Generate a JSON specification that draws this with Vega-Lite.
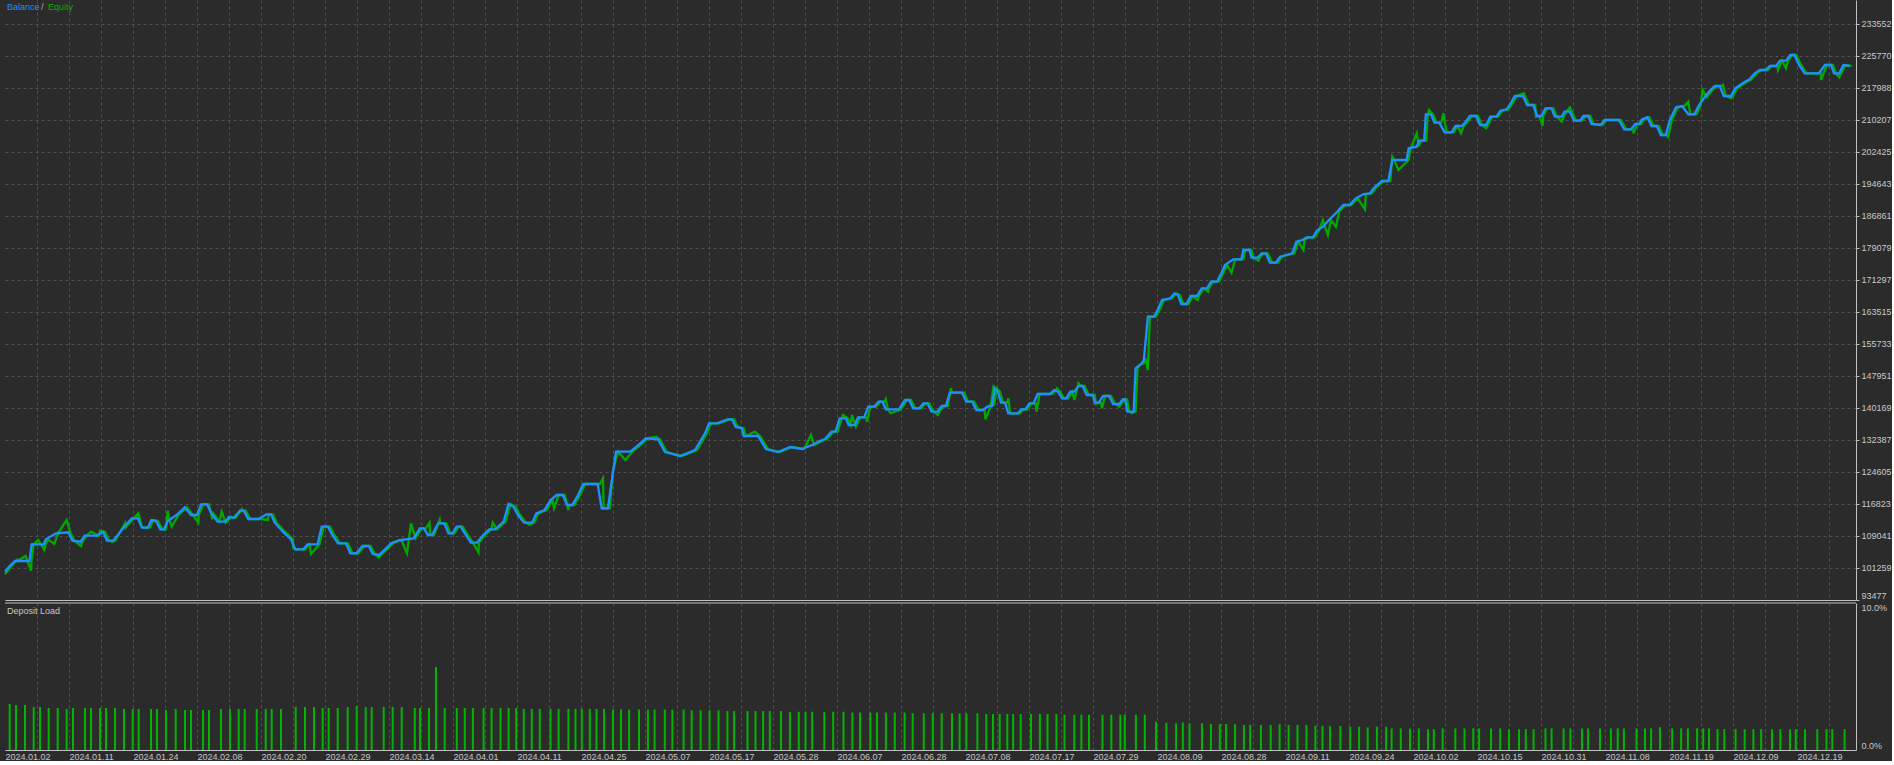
{
  "$schema": "https://vega.github.io/schema/vega-lite/v6.json",
  "background": "#2b2b2b",
  "padding": 0,
  "autosize": {"type": "pad"},
  "spacing": 3,
  "bounds": "flush",
  "config": {
    "view": {"stroke": null},
    "font": "Liberation Sans",
    "axis": {"labelFont": "Liberation Sans", "labelFontSize": 9, "labelColor": "#c8c8c8", "labelOverlap": false, "title": null}
  },
  "datasets": {
    "one": [{"x": 0, "v": 239388, "p": 10}],
    "balance": [
      {"x":0,"v":100356},{"x":4,"v":101572},{"x":10,"v":102958},{"x":24.5,"v":102958},{"x":26.6,"v":107018},{"x":38.8,"v":107018},{"x":40.9,"v":108234},{"x":51,"v":109693},{"x":63.3,"v":109936},{"x":67.4,"v":107895},{"x":75.6,"v":107651},{"x":79.7,"v":109111},{"x":92,"v":109111},{"x":98,"v":110084},{"x":102,"v":107895},{"x":108.3,"v":107895},{"x":118.5,"v":111057},{"x":126.7,"v":113343},{"x":132.8,"v":113343},{"x":137,"v":111057},{"x":143,"v":111057},{"x":146.3,"v":112929},{"x":151,"v":112686},{"x":155.3,"v":110668},{"x":159,"v":110668},{"x":162.7,"v":112686},{"x":171.6,"v":114145},{"x":179.8,"v":116018},{"x":186,"v":114145},{"x":191.8,"v":114145},{"x":196.2,"v":116747},{"x":202,"v":116747},{"x":206.4,"v":114559},{"x":212.5,"v":112516},{"x":220.4,"v":112516},{"x":224,"v":113732},{"x":228.6,"v":113414},{"x":235,"v":115191},{"x":238.8,"v":115191},{"x":243.2,"v":113172},{"x":253.4,"v":113172},{"x":261.6,"v":114315},{"x":266,"v":114315},{"x":269.7,"v":112273},{"x":277.9,"v":110084},{"x":286,"v":108234},{"x":290.2,"v":105804},{"x":298.4,"v":105804},{"x":302.4,"v":107018},{"x":312.6,"v":107018},{"x":316.7,"v":111301},{"x":322.9,"v":111301},{"x":327,"v":109452},{"x":333,"v":107264},{"x":341,"v":107264},{"x":345.3,"v":104831},{"x":351.4,"v":104831},{"x":357.6,"v":106606},{"x":363.7,"v":106606},{"x":367.8,"v":104661},{"x":374,"v":104418},{"x":380,"v":105804},{"x":386.2,"v":107264},{"x":394.4,"v":108065},{"x":408.7,"v":108479},{"x":414.8,"v":110911},{"x":418.9,"v":110911},{"x":423,"v":109281},{"x":427,"v":109281},{"x":433.2,"v":112127},{"x":439.3,"v":112127},{"x":443.4,"v":109693},{"x":447.5,"v":109693},{"x":451.6,"v":111301},{"x":455.7,"v":111301},{"x":459.8,"v":109693},{"x":465.9,"v":107409},{"x":472,"v":107409},{"x":478.2,"v":109281},{"x":484.3,"v":110668},{"x":490,"v":110668},{"x":498.6,"v":112516},{"x":503.5,"v":116820},{"x":508.5,"v":116164},{"x":513,"v":114145},{"x":519,"v":112273},{"x":527.2,"v":112273},{"x":531.3,"v":114559},{"x":539.5,"v":115364},{"x":545.6,"v":117793},{"x":551.7,"v":119009},{"x":557.8,"v":119009},{"x":562,"v":116577},{"x":567.3,"v":116577},{"x":572.2,"v":118597},{"x":578.3,"v":121684},{"x":592.6,"v":121684},{"x":596.7,"v":115775},{"x":602.8,"v":115775},{"x":611,"v":129539},{"x":625.3,"v":129539},{"x":633.5,"v":131168},{"x":640.8,"v":132798},{"x":653,"v":132555},{"x":660,"v":129466},{"x":675,"v":128493},{"x":690,"v":129952},{"x":700,"v":134014},{"x":704,"v":136446},{"x":712,"v":136446},{"x":722.4,"v":137419},{"x":727,"v":137419},{"x":730.6,"v":135619},{"x":736.7,"v":135230},{"x":738.8,"v":133357},{"x":753,"v":133357},{"x":761,"v":130196},{"x":773,"v":129466},{"x":785,"v":130682},{"x":797,"v":130196},{"x":807,"v":131168},{"x":815,"v":132141},{"x":820,"v":132628},{"x":826.5,"v":134403},{"x":830.6,"v":134403},{"x":834.7,"v":137662},{"x":840.8,"v":137662},{"x":843.7,"v":136032},{"x":849.8,"v":136032},{"x":853,"v":137905},{"x":859.2,"v":137905},{"x":863.3,"v":140483},{"x":869.4,"v":140483},{"x":873.5,"v":141699},{"x":877.6,"v":141699},{"x":880.8,"v":139850},{"x":893.9,"v":139850},{"x":900,"v":142112},{"x":904,"v":142112},{"x":908.2,"v":140093},{"x":914.3,"v":140093},{"x":918.4,"v":141309},{"x":922.4,"v":141309},{"x":926.5,"v":139267},{"x":932.6,"v":139267},{"x":936.7,"v":140653},{"x":940.8,"v":140653},{"x":944.9,"v":143887},{"x":957,"v":143887},{"x":961.2,"v":141699},{"x":967.3,"v":141699},{"x":971.4,"v":139680},{"x":977.6,"v":139680},{"x":983.7,"v":140653},{"x":986.9,"v":140653},{"x":989.8,"v":144957},{"x":993,"v":144130},{"x":995.9,"v":141455},{"x":1000,"v":141455},{"x":1003.3,"v":138879},{"x":1013,"v":138879},{"x":1016.3,"v":139850},{"x":1020.4,"v":139850},{"x":1024.5,"v":141309},{"x":1028.6,"v":141309},{"x":1032.7,"v":143571},{"x":1044.9,"v":143571},{"x":1049,"v":144544},{"x":1053,"v":144130},{"x":1057,"v":142526},{"x":1061.2,"v":142526},{"x":1065.3,"v":144130},{"x":1069.4,"v":144130},{"x":1073.5,"v":145517},{"x":1077.6,"v":145517},{"x":1081.6,"v":143328},{"x":1087.8,"v":143328},{"x":1089.8,"v":141455},{"x":1093.9,"v":141455},{"x":1098,"v":143085},{"x":1104,"v":143085},{"x":1108.2,"v":141139},{"x":1114.3,"v":141139},{"x":1117.6,"v":142282},{"x":1120,"v":142282},{"x":1122.4,"v":139267},{"x":1128.6,"v":139267},{"x":1130.6,"v":149822},{"x":1136.7,"v":151037},{"x":1138.8,"v":151840},{"x":1142.9,"v":162371},{"x":1149,"v":162371},{"x":1153,"v":164170},{"x":1157,"v":166431},{"x":1165.3,"v":166844},{"x":1169.4,"v":168060},{"x":1173,"v":167647},{"x":1176.3,"v":165458},{"x":1181.6,"v":165458},{"x":1185.7,"v":167404},{"x":1192,"v":167404},{"x":1196.7,"v":169276},{"x":1202,"v":169276},{"x":1206,"v":170881},{"x":1212,"v":170881},{"x":1216.3,"v":172924},{"x":1220,"v":174943},{"x":1228.2,"v":176329},{"x":1236.3,"v":176329},{"x":1238.4,"v":178590},{"x":1244.5,"v":178590},{"x":1246.5,"v":176718},{"x":1252.7,"v":176718},{"x":1256.7,"v":177788},{"x":1260.8,"v":177788},{"x":1264.9,"v":175502},{"x":1271,"v":175502},{"x":1275.1,"v":176961},{"x":1281.2,"v":177375},{"x":1287.3,"v":177788},{"x":1291.4,"v":180609},{"x":1297.6,"v":181022},{"x":1301.6,"v":181679},{"x":1307.8,"v":181679},{"x":1311.8,"v":183284},{"x":1318,"v":184257},{"x":1324,"v":185886},{"x":1332.2,"v":187905},{"x":1338.4,"v":189534},{"x":1344.5,"v":189534},{"x":1350.6,"v":191164},{"x":1358.8,"v":192209},{"x":1364.9,"v":192379},{"x":1369,"v":193741},{"x":1377,"v":195371},{"x":1383.3,"v":195371},{"x":1387.3,"v":200478},{"x":1401.6,"v":200478},{"x":1403.7,"v":203323},{"x":1411.8,"v":203712},{"x":1413.9,"v":205171},{"x":1419.2,"v":205171},{"x":1420.8,"v":211591},{"x":1426.1,"v":211591},{"x":1429.4,"v":209549},{"x":1434.3,"v":209549},{"x":1439.6,"v":207214},{"x":1446.5,"v":207214},{"x":1450.6,"v":208746},{"x":1456.7,"v":208746},{"x":1460.8,"v":209792},{"x":1464.9,"v":211178},{"x":1471,"v":211178},{"x":1475.1,"v":208989},{"x":1481.2,"v":208989},{"x":1485.3,"v":211008},{"x":1491.4,"v":211008},{"x":1495.5,"v":212467},{"x":1501.6,"v":212807},{"x":1505.7,"v":214267},{"x":1509.8,"v":216042},{"x":1518,"v":216042},{"x":1522,"v":213853},{"x":1528.2,"v":213853},{"x":1532.2,"v":211178},{"x":1536.3,"v":211178},{"x":1540.4,"v":213051},{"x":1546.5,"v":213051},{"x":1549.8,"v":211008},{"x":1556.7,"v":211008},{"x":1559.6,"v":212224},{"x":1564.9,"v":212224},{"x":1569,"v":210035},{"x":1575.1,"v":210035},{"x":1578.4,"v":211178},{"x":1583.3,"v":211178},{"x":1586.5,"v":209232},{"x":1595.5,"v":208989},{"x":1599.6,"v":210205},{"x":1613.9,"v":210205},{"x":1619.2,"v":207944},{"x":1626.1,"v":207944},{"x":1630.2,"v":209232},{"x":1634.3,"v":209232},{"x":1637.1,"v":210376},{"x":1642.4,"v":210862},{"x":1646.5,"v":208746},{"x":1651.8,"v":208746},{"x":1655.9,"v":206557},{"x":1660.8,"v":206557},{"x":1664.9,"v":210205},{"x":1671,"v":213294},{"x":1677.1,"v":213610},{"x":1683.3,"v":211591},{"x":1689.4,"v":211591},{"x":1693.5,"v":213610},{"x":1699.6,"v":215726},{"x":1704.9,"v":217331},{"x":1709.8,"v":218474},{"x":1714.7,"v":218474},{"x":1718.8,"v":216042},{"x":1726.1,"v":216042},{"x":1730.2,"v":217914},{"x":1738.4,"v":219276},{"x":1744.5,"v":220103},{"x":1749.8,"v":221562},{"x":1754.7,"v":222365},{"x":1760.8,"v":222365},{"x":1764.9,"v":223337},{"x":1771,"v":223337},{"x":1775.1,"v":224627},{"x":1781.2,"v":224627},{"x":1785.3,"v":226013},{"x":1789.4,"v":226013},{"x":1793.5,"v":223824},{"x":1799.6,"v":221562},{"x":1813.9,"v":221562},{"x":1820,"v":223581},{"x":1826,"v":223581},{"x":1829,"v":221562},{"x":1834.3,"v":221562},{"x":1838.4,"v":223581},{"x":1844.5,"v":223337}
    ],
    "equity": [
      {"x":2,"v":100356},{"x":6,"v":101572},{"x":12,"v":102958},{"x":26.5,"v":102958},{"x":28.6,"v":107018},{"x":40.8,"v":107018},{"x":42.9,"v":108234},{"x":53,"v":109693},{"x":65.3,"v":109936},{"x":69.4,"v":107895},{"x":77.6,"v":107651},{"x":81.7,"v":109111},{"x":94,"v":109111},{"x":100,"v":110084},{"x":104,"v":107895},{"x":110.3,"v":107895},{"x":120.5,"v":111057},{"x":128.7,"v":113343},{"x":134.8,"v":113343},{"x":139,"v":111057},{"x":145,"v":111057},{"x":148.3,"v":112929},{"x":153,"v":112686},{"x":157.3,"v":110668},{"x":161,"v":110668},{"x":164.7,"v":112686},{"x":173.6,"v":114145},{"x":181.8,"v":116018},{"x":188,"v":114145},{"x":193.8,"v":114145},{"x":198.2,"v":116747},{"x":204,"v":116747},{"x":208.4,"v":114559},{"x":214.5,"v":112516},{"x":222.4,"v":112516},{"x":226,"v":113732},{"x":230.6,"v":113414},{"x":237,"v":115191},{"x":240.8,"v":115191},{"x":245.2,"v":113172},{"x":255.4,"v":113172},{"x":263.6,"v":114315},{"x":268,"v":114315},{"x":271.7,"v":112273},{"x":279.9,"v":110084},{"x":288,"v":108234},{"x":292.2,"v":105804},{"x":300.4,"v":105804},{"x":304.4,"v":107018},{"x":314.6,"v":107018},{"x":318.7,"v":111301},{"x":324.9,"v":111301},{"x":329,"v":109452},{"x":335,"v":107264},{"x":343,"v":107264},{"x":347.3,"v":104831},{"x":353.4,"v":104831},{"x":359.6,"v":106606},{"x":365.7,"v":106606},{"x":369.8,"v":104661},{"x":376,"v":104418},{"x":382,"v":105804},{"x":388.2,"v":107264},{"x":396.4,"v":108065},{"x":410.7,"v":108479},{"x":416.8,"v":110911},{"x":420.9,"v":110911},{"x":425,"v":109281},{"x":429,"v":109281},{"x":435.2,"v":112127},{"x":441.3,"v":112127},{"x":445.4,"v":109693},{"x":449.5,"v":109693},{"x":453.6,"v":111301},{"x":457.7,"v":111301},{"x":461.8,"v":109693},{"x":467.9,"v":107409},{"x":474,"v":107409},{"x":480.2,"v":109281},{"x":486.3,"v":110668},{"x":492,"v":110668},{"x":500.6,"v":112516},{"x":505.5,"v":116820},{"x":510.5,"v":116164},{"x":515,"v":114145},{"x":521,"v":112273},{"x":529.2,"v":112273},{"x":533.3,"v":114559},{"x":541.5,"v":115364},{"x":547.6,"v":117793},{"x":553.7,"v":119009},{"x":559.8,"v":119009},{"x":564,"v":116577},{"x":569.3,"v":116577},{"x":574.2,"v":118597},{"x":580.3,"v":121684},{"x":594.6,"v":121684},{"x":598.7,"v":115775},{"x":604.8,"v":115775},{"x":613,"v":129539},{"x":627.3,"v":129539},{"x":635.5,"v":131168},{"x":642.8,"v":132798},{"x":655,"v":132555},{"x":662,"v":129466},{"x":677,"v":128493},{"x":692,"v":129952},{"x":702,"v":134014},{"x":706,"v":136446},{"x":714,"v":136446},{"x":724.4,"v":137419},{"x":729,"v":137419},{"x":732.6,"v":135619},{"x":738.7,"v":135230},{"x":740.8,"v":133357},{"x":755,"v":133357},{"x":763,"v":130196},{"x":775,"v":129466},{"x":787,"v":130682},{"x":799,"v":130196},{"x":809,"v":131168},{"x":817,"v":132141},{"x":822,"v":132628},{"x":828.5,"v":134403},{"x":832.6,"v":134403},{"x":836.7,"v":137662},{"x":842.8,"v":137662},{"x":845.7,"v":136032},{"x":851.8,"v":136032},{"x":855,"v":137905},{"x":861.2,"v":137905},{"x":865.3,"v":140483},{"x":871.4,"v":140483},{"x":875.5,"v":141699},{"x":879.6,"v":141699},{"x":882.8,"v":139850},{"x":895.9,"v":139850},{"x":902,"v":142112},{"x":906,"v":142112},{"x":910.2,"v":140093},{"x":916.3,"v":140093},{"x":920.4,"v":141309},{"x":924.4,"v":141309},{"x":928.5,"v":139267},{"x":934.6,"v":139267},{"x":938.7,"v":140653},{"x":942.8,"v":140653},{"x":946.9,"v":143887},{"x":959,"v":143887},{"x":963.2,"v":141699},{"x":969.3,"v":141699},{"x":973.4,"v":139680},{"x":979.6,"v":139680},{"x":985.7,"v":140653},{"x":988.9,"v":140653},{"x":991.8,"v":144957},{"x":995,"v":144130},{"x":997.9,"v":141455},{"x":1002,"v":141455},{"x":1005.3,"v":138879},{"x":1015,"v":138879},{"x":1018.3,"v":139850},{"x":1022.4,"v":139850},{"x":1026.5,"v":141309},{"x":1030.6,"v":141309},{"x":1034.7,"v":143571},{"x":1046.9,"v":143571},{"x":1051,"v":144544},{"x":1055,"v":144130},{"x":1059,"v":142526},{"x":1063.2,"v":142526},{"x":1067.3,"v":144130},{"x":1071.4,"v":144130},{"x":1075.5,"v":145517},{"x":1079.6,"v":145517},{"x":1083.6,"v":143328},{"x":1089.8,"v":143328},{"x":1091.8,"v":141455},{"x":1095.9,"v":141455},{"x":1100,"v":143085},{"x":1106,"v":143085},{"x":1110.2,"v":141139},{"x":1116.3,"v":141139},{"x":1119.6,"v":142282},{"x":1122,"v":142282},{"x":1124.4,"v":139267},{"x":1130.6,"v":139267},{"x":1132.6,"v":149822},{"x":1138.7,"v":151037},{"x":1140.8,"v":151840},{"x":1144.9,"v":162371},{"x":1151,"v":162371},{"x":1155,"v":164170},{"x":1159,"v":166431},{"x":1167.3,"v":166844},{"x":1171.4,"v":168060},{"x":1175,"v":167647},{"x":1178.3,"v":165458},{"x":1183.6,"v":165458},{"x":1187.7,"v":167404},{"x":1194,"v":167404},{"x":1198.7,"v":169276},{"x":1204,"v":169276},{"x":1208,"v":170881},{"x":1214,"v":170881},{"x":1218.3,"v":172924},{"x":1222,"v":174943},{"x":1230.2,"v":176329},{"x":1238.3,"v":176329},{"x":1240.4,"v":178590},{"x":1246.5,"v":178590},{"x":1248.5,"v":176718},{"x":1254.7,"v":176718},{"x":1258.7,"v":177788},{"x":1262.8,"v":177788},{"x":1266.9,"v":175502},{"x":1273,"v":175502},{"x":1277.1,"v":176961},{"x":1283.2,"v":177375},{"x":1289.3,"v":177788},{"x":1293.4,"v":180609},{"x":1299.6,"v":181022},{"x":1303.6,"v":181679},{"x":1309.8,"v":181679},{"x":1313.8,"v":183284},{"x":1320,"v":184257},{"x":1326,"v":185886},{"x":1334.2,"v":187905},{"x":1340.4,"v":189534},{"x":1346.5,"v":189534},{"x":1352.6,"v":191164},{"x":1360.8,"v":192209},{"x":1366.9,"v":192379},{"x":1371,"v":193741},{"x":1379,"v":195371},{"x":1385.3,"v":195371},{"x":1389.3,"v":200478},{"x":1403.6,"v":200478},{"x":1405.7,"v":203323},{"x":1413.8,"v":203712},{"x":1415.9,"v":205171},{"x":1421.2,"v":205171},{"x":1422.8,"v":211591},{"x":1428.1,"v":211591},{"x":1431.4,"v":209549},{"x":1436.3,"v":209549},{"x":1441.6,"v":207214},{"x":1448.5,"v":207214},{"x":1452.6,"v":208746},{"x":1458.7,"v":208746},{"x":1462.8,"v":209792},{"x":1466.9,"v":211178},{"x":1473,"v":211178},{"x":1477.1,"v":208989},{"x":1483.2,"v":208989},{"x":1487.3,"v":211008},{"x":1493.4,"v":211008},{"x":1497.5,"v":212467},{"x":1503.6,"v":212807},{"x":1507.7,"v":214267},{"x":1511.8,"v":216042},{"x":1520,"v":216042},{"x":1524,"v":213853},{"x":1530.2,"v":213853},{"x":1534.2,"v":211178},{"x":1538.3,"v":211178},{"x":1542.4,"v":213051},{"x":1548.5,"v":213051},{"x":1551.8,"v":211008},{"x":1558.7,"v":211008},{"x":1561.6,"v":212224},{"x":1566.9,"v":212224},{"x":1571,"v":210035},{"x":1577.1,"v":210035},{"x":1580.4,"v":211178},{"x":1585.3,"v":211178},{"x":1588.5,"v":209232},{"x":1597.5,"v":208989},{"x":1601.6,"v":210205},{"x":1615.9,"v":210205},{"x":1621.2,"v":207944},{"x":1628.1,"v":207944},{"x":1632.2,"v":209232},{"x":1636.3,"v":209232},{"x":1639.1,"v":210376},{"x":1644.4,"v":210862},{"x":1648.5,"v":208746},{"x":1653.8,"v":208746},{"x":1657.9,"v":206557},{"x":1662.8,"v":206557},{"x":1666.9,"v":210205},{"x":1673,"v":213294},{"x":1679.1,"v":213610},{"x":1685.3,"v":211591},{"x":1691.4,"v":211591},{"x":1695.5,"v":213610},{"x":1701.6,"v":215726},{"x":1706.9,"v":217331},{"x":1711.8,"v":218474},{"x":1716.7,"v":218474},{"x":1720.8,"v":216042},{"x":1728.1,"v":216042},{"x":1732.2,"v":217914},{"x":1740.4,"v":219276},{"x":1746.5,"v":220103},{"x":1751.8,"v":221562},{"x":1756.7,"v":222365},{"x":1762.8,"v":222365},{"x":1766.9,"v":223337},{"x":1772.5,"v":223337},{"x":1777.1,"v":224627},{"x":1783.2,"v":224627},{"x":1787.3,"v":226013},{"x":1791.4,"v":226013},{"x":1795.5,"v":223824},{"x":1801.6,"v":221562},{"x":1815.9,"v":221562},{"x":1822,"v":223581},{"x":1828,"v":223581},{"x":1831,"v":221562},{"x":1836.3,"v":221562},{"x":1840.4,"v":223581},{"x":1846.5,"v":223337},
      {"x":0,"v":99724},{"x":11.7,"v":103202},{"x":20.7,"v":104174},{"x":26,"v":100602},{"x":33.3,"v":108065},{"x":39.3,"v":105633},{"x":49.3,"v":107093},{"x":61.7,"v":112929},{"x":76,"v":106606},{"x":86,"v":110084},{"x":95,"v":110327},{"x":106.7,"v":107651},{"x":120,"v":112127},{"x":133.3,"v":114559},{"x":136.7,"v":111301},{"x":162.7,"v":115191},{"x":166.7,"v":111301},{"x":193.3,"v":112273},{"x":207.3,"v":113099},{"x":216.7,"v":114948},{"x":220.7,"v":112273},{"x":236.7,"v":115533},{"x":263,"v":112929},{"x":288.3,"v":106047},{"x":306,"v":104661},{"x":373.5,"v":103856},{"x":402,"v":104831},{"x":406,"v":112127},{"x":424.5,"v":112273},{"x":434.7,"v":112929},{"x":473.5,"v":105054},{"x":487.8,"v":112273},{"x":524.5,"v":111714},{"x":549,"v":115775},{"x":563.3,"v":115364},{"x":598,"v":123070},{"x":601,"v":115850},{"x":608,"v":125089},{"x":620.4,"v":127521},{"x":651,"v":133187},{"x":750,"v":134403},{"x":806,"v":133600},{"x":838,"v":138464},{"x":847,"v":138464},{"x":851,"v":135619},{"x":862,"v":136835},{"x":880.8,"v":142282},{"x":885.7,"v":138879},{"x":932.7,"v":138464},{"x":942.9,"v":140896},{"x":946,"v":144957},{"x":980.5,"v":137419},{"x":988.6,"v":145760},{"x":1003.3,"v":142526},{"x":1031.4,"v":139267},{"x":1052,"v":144957},{"x":1069.4,"v":142112},{"x":1073.5,"v":146173},{"x":1091,"v":140896},{"x":1097,"v":140093},{"x":1114.3,"v":140482},{"x":1126.5,"v":138879},{"x":1134.7,"v":150624},{"x":1142.9,"v":149408},{"x":1192.7,"v":166431},{"x":1203.3,"v":168449},{"x":1226.5,"v":173070},{"x":1253.5,"v":175988},{"x":1298.4,"v":178590},{"x":1318,"v":185886},{"x":1322.9,"v":182238},{"x":1331,"v":184257},{"x":1360,"v":188488},{"x":1387.3,"v":201281},{"x":1393.5,"v":198046},{"x":1411.8,"v":206971},{"x":1424,"v":212637},{"x":1438.4,"v":211835},{"x":1456,"v":206971},{"x":1481.2,"v":208187},{"x":1519,"v":216698},{"x":1530.9,"v":211008},{"x":1537.6,"v":208746},{"x":1556.7,"v":209792},{"x":1564.9,"v":213294},{"x":1628.6,"v":206971},{"x":1662.9,"v":205755},{"x":1683.3,"v":214656},{"x":1697.6,"v":217501},{"x":1718,"v":218717},{"x":1726,"v":215483},{"x":1773,"v":222365},{"x":1781,"v":222778},{"x":1816,"v":219933},{"x":1834.3,"v":220590}
    ],
    "load": [
      {"x":4.7,"p":3.13},{"x":11,"p":3.06},{"x":20,"p":3.06},{"x":28.7,"p":2.93},{"x":35,"p":2.93},{"x":43.7,"p":2.86},{"x":52.7,"p":2.86},{"x":61.7,"p":2.79},{"x":68,"p":2.86},{"x":80,"p":2.86},{"x":86,"p":2.86},{"x":95,"p":2.86},{"x":101,"p":2.86},{"x":110,"p":2.86},{"x":119,"p":2.79},{"x":127.7,"p":2.79},{"x":133.7,"p":2.79},{"x":146,"p":2.79},{"x":152,"p":2.79},{"x":161,"p":2.72},{"x":170.7,"p":2.79},{"x":180,"p":2.72},{"x":186,"p":2.72},{"x":198,"p":2.72},{"x":204,"p":2.72},{"x":216,"p":2.79},{"x":225,"p":2.79},{"x":233.7,"p":2.79},{"x":239.7,"p":2.79},{"x":251.7,"p":2.79},{"x":260.7,"p":2.79},{"x":266.7,"p":2.79},{"x":276,"p":2.79},{"x":290.7,"p":2.93},{"x":300,"p":2.93},{"x":309,"p":2.93},{"x":317.7,"p":2.86},{"x":323.7,"p":2.86},{"x":332.7,"p":2.86},{"x":342.7,"p":2.93},{"x":351.7,"p":2.99},{"x":360.7,"p":2.93},{"x":366.7,"p":2.93},{"x":378.7,"p":2.93},{"x":387.7,"p":2.93},{"x":396.7,"p":2.93},
      {"x":409.8,"p":2.86},{"x":415,"p":2.86},{"x":424,"p":2.86},{"x":431,"p":5.65},{"x":439.7,"p":2.86},{"x":451.8,"p":2.86},{"x":459.8,"p":2.86},{"x":467.9,"p":2.86},{"x":478.6,"p":2.86},{"x":486.6,"p":2.86},{"x":495.5,"p":2.86},{"x":503.6,"p":2.86},{"x":511.2,"p":2.86},{"x":518.8,"p":2.8},{"x":526.8,"p":2.8},{"x":534.8,"p":2.8},{"x":545.5,"p":2.8},{"x":553.6,"p":2.8},{"x":563.4,"p":2.8},{"x":570.5,"p":2.8},{"x":576.8,"p":2.8},{"x":584.8,"p":2.8},{"x":591.5,"p":2.8},{"x":599.1,"p":2.8},{"x":608,"p":2.75},{"x":616,"p":2.75},{"x":624.1,"p":2.75},{"x":634,"p":2.75},{"x":642.9,"p":2.75},{"x":649.6,"p":2.75},{"x":659.8,"p":2.75},{"x":667.4,"p":2.75},{"x":678.6,"p":2.75},
      {"x":686.7,"p":2.7},{"x":695.6,"p":2.7},{"x":704.6,"p":2.7},{"x":713.5,"p":2.7},{"x":722.4,"p":2.65},{"x":729.1,"p":2.65},{"x":742.5,"p":2.65},{"x":750.5,"p":2.65},{"x":758.1,"p":2.65},{"x":764.8,"p":2.65},{"x":776,"p":2.65},{"x":784.9,"p":2.6},{"x":793.8,"p":2.6},{"x":800.5,"p":2.6},{"x":807.2,"p":2.6},{"x":819.3,"p":2.6},{"x":828.2,"p":2.6},{"x":838.5,"p":2.6},{"x":847.4,"p":2.55},{"x":855,"p":2.55},{"x":865.3,"p":2.55},{"x":872,"p":2.55},{"x":880.9,"p":2.55},{"x":889.8,"p":2.55},{"x":899.6,"p":2.55},{"x":907.7,"p":2.5},{"x":918.8,"p":2.5},{"x":927.8,"p":2.5},{"x":936.7,"p":2.5},{"x":947,"p":2.5},{"x":954.6,"p":2.5},{"x":961.3,"p":2.5},{"x":972.4,"p":2.5},{"x":981.3,"p":2.45},{"x":988,"p":2.45},{"x":994.7,"p":2.45},{"x":1002.3,"p":2.45},{"x":1008.1,"p":2.45},{"x":1015.7,"p":2.45},{"x":1026,"p":2.45},{"x":1034.9,"p":2.45},{"x":1042.5,"p":2.45},{"x":1051.4,"p":2.45},{"x":1059.5,"p":2.4},{"x":1069.3,"p":2.4},{"x":1076.4,"p":2.4},{"x":1084,"p":2.4},{"x":1097.4,"p":2.4},{"x":1106.3,"p":2.4},{"x":1115.3,"p":2.4},{"x":1119.7,"p":2.4},{"x":1130.9,"p":2.4},{"x":1139.8,"p":2.4},
      {"x":1151,"p":1.93},{"x":1161.3,"p":1.86},{"x":1171.1,"p":1.82},{"x":1177.8,"p":1.88},{"x":1184.5,"p":1.82},{"x":1197,"p":1.82},{"x":1205.9,"p":1.77},{"x":1214.8,"p":1.77},{"x":1221.1,"p":1.77},{"x":1230,"p":1.75},{"x":1238.9,"p":1.7},{"x":1245.2,"p":1.7},{"x":1255.9,"p":1.7},{"x":1265.7,"p":1.7},{"x":1274.6,"p":1.75},{"x":1283.6,"p":1.7},{"x":1292.5,"p":1.7},{"x":1301.4,"p":1.7},{"x":1310.4,"p":1.65},{"x":1317.5,"p":1.65},{"x":1325.1,"p":1.63},{"x":1335.4,"p":1.63},{"x":1345.2,"p":1.59},{"x":1354.1,"p":1.59},
      {"x":1362.7,"p":1.54},{"x":1371.9,"p":1.59},{"x":1381.1,"p":1.59},{"x":1386.6,"p":1.47},{"x":1395.8,"p":1.47},{"x":1405,"p":1.47},{"x":1413.8,"p":1.47},{"x":1423,"p":1.42},{"x":1428.8,"p":1.42},{"x":1437.7,"p":1.47},{"x":1450.3,"p":1.47},{"x":1459.5,"p":1.47},{"x":1468.3,"p":1.47},{"x":1474.1,"p":1.47},{"x":1486,"p":1.47},{"x":1495.2,"p":1.47},{"x":1504,"p":1.42},{"x":1514,"p":1.42},{"x":1520.8,"p":1.42},{"x":1528.6,"p":1.42},{"x":1540.5,"p":1.47},{"x":1546.6,"p":1.47},{"x":1558.6,"p":1.47},{"x":1565.4,"p":1.47},{"x":1577,"p":1.47},{"x":1583.1,"p":1.47},{"x":1595,"p":1.47},{"x":1605.9,"p":1.47},{"x":1612.7,"p":1.47},{"x":1618.9,"p":1.47},{"x":1631.5,"p":1.47},{"x":1640,"p":1.47},{"x":1646.1,"p":1.47},{"x":1655,"p":1.54},{"x":1667.2,"p":1.47},{"x":1676.1,"p":1.47},{"x":1682.9,"p":1.47},{"x":1692.1,"p":1.47},{"x":1698.2,"p":1.47},{"x":1704,"p":1.47},{"x":1712.5,"p":1.42},{"x":1719.3,"p":1.42},{"x":1730.6,"p":1.42},{"x":1739.7,"p":1.42},{"x":1748.4,"p":1.42},{"x":1756.2,"p":1.42},{"x":1767,"p":1.42},{"x":1775.3,"p":1.42},{"x":1785,"p":1.42},{"x":1790.8,"p":1.42},{"x":1800,"p":1.42},{"x":1812.3,"p":1.42},{"x":1821.5,"p":1.42},{"x":1827.3,"p":1.42},{"x":1839.6,"p":1.42}
    ]
  },
  "vconcat": [
    {
      "width": 1851,
      "height": 600,
      "encoding": {
        "x": {
          "field": "x", "type": "quantitative",
          "scale": {"domain": [0, 1851], "nice": false, "zero": false},
          "axis": {
            "orient": "bottom",
            "values": [32,64,96,128,160,192,224,256,288,320,352,384,416,448,480,512,544,576,608,640,672,704,736,768,800,832,864,896,928,960,992,1024,1056,1088,1120,1152,1184,1216,1248,1280,1312,1344,1376,1408,1440,1472,1504,1536,1568,1600,1632,1664,1696,1728,1760,1792,1824],
            "labels": false, "ticks": false,
            "domain": true, "domainColor": "#c0c0c0", "domainWidth": 1,
            "grid": true, "gridColor": "#505050", "gridDash": [3, 3], "gridWidth": 1
          }
        },
        "y": {
          "field": "v", "type": "quantitative",
          "scale": {"domain": [93477, 239388], "nice": false, "zero": false},
          "axis": {
            "orient": "right",
            "values": [93477,101259,109041,116823,124605,132387,140169,147951,155733,163515,171297,179079,186861,194643,202425,210207,217988,225770,233552],
            "format": "d",
            "labelFlush": true,
            "labelPadding": 2,
            "ticks": true, "tickSize": 3, "tickColor": "#c0c0c0",
            "domain": true, "domainColor": "#c0c0c0", "domainWidth": 1,
            "grid": true, "gridColor": "#505050", "gridDash": [3, 3], "gridWidth": 1
          }
        }
      },
      "layer": [
        {
          "data": {"name": "equity"},
          "mark": {"type": "line", "color": "#00a800", "strokeWidth": 2.3}
        },
        {
          "data": {"name": "balance"},
          "mark": {"type": "line", "color": "#1e90ff", "strokeWidth": 2.3}
        },
        {
          "data": {"name": "one"},
          "mark": {"type": "text", "text": "Balance", "align": "left", "baseline": "middle", "dx": 2, "dy": 7, "fontSize": 9, "color": "#1e90ff"},
          "encoding": {"x": {"datum": 0, "type": "quantitative"}, "y": {"datum": 239388, "type": "quantitative"}}
        },
        {
          "data": {"name": "one"},
          "mark": {"type": "text", "text": "/", "align": "left", "baseline": "middle", "dx": 36, "dy": 7, "fontSize": 9, "color": "#c8a878"},
          "encoding": {"x": {"datum": 0, "type": "quantitative"}, "y": {"datum": 239388, "type": "quantitative"}}
        },
        {
          "data": {"name": "one"},
          "mark": {"type": "text", "text": "Equity", "align": "left", "baseline": "middle", "dx": 43, "dy": 7, "fontSize": 9, "color": "#00b400"},
          "encoding": {"x": {"datum": 0, "type": "quantitative"}, "y": {"datum": 239388, "type": "quantitative"}}
        }
      ]
    },
    {
      "width": 1851,
      "height": 147,
      "encoding": {
        "x": {
          "field": "x", "type": "quantitative",
          "scale": {"domain": [0, 1851], "nice": false, "zero": false},
          "axis": {
            "orient": "bottom",
            "values": [0,32,64,96,128,160,192,224,256,288,320,352,384,416,448,480,512,544,576,608,640,672,704,736,768,800,832,864,896,928,960,992,1024,1056,1088,1120,1152,1184,1216,1248,1280,1312,1344,1376,1408,1440,1472,1504,1536,1568,1600,1632,1664,1696,1728,1760,1792,1824],
            "labelExpr": "datum.value % 64 === 0 ? ['2024.01.02','2024.01.11','2024.01.24','2024.02.08','2024.02.20','2024.02.29','2024.03.14','2024.04.01','2024.04.11','2024.04.25','2024.05.07','2024.05.17','2024.05.28','2024.06.07','2024.06.28','2024.07.08','2024.07.17','2024.07.29','2024.08.09','2024.08.28','2024.09.11','2024.09.24','2024.10.02','2024.10.15','2024.10.31','2024.11.08','2024.11.19','2024.12.09','2024.12.19'][datum.value / 64] : ''",
            "labelAlign": "left", "labelBaseline": "top", "labelPadding": 2,
            "ticks": false,
            "domain": true, "domainColor": "#c0c0c0", "domainWidth": 1,
            "grid": true, "gridColor": "#505050", "gridDash": [3, 3], "gridWidth": 1,
            "gridOpacity": {"condition": {"test": "datum.value === 0", "value": 0}, "value": 1}
          }
        },
        "y": {
          "field": "p", "type": "quantitative",
          "scale": {"domain": [0, 10], "nice": false, "zero": true},
          "axis": {
            "orient": "right",
            "values": [0, 10],
            "labelExpr": "format(datum.value, '.1f') + '%'",
            "labelFlush": true,
            "labelPadding": 5,
            "ticks": false,
            "domain": true, "domainColor": "#c0c0c0", "domainWidth": 1,
            "grid": false
          }
        }
      },
      "layer": [
        {
          "data": {"name": "load"},
          "mark": {"type": "rule", "color": "#00b400", "strokeWidth": 2},
          "encoding": {"y2": {"datum": 0}}
        },
        {
          "data": {"name": "one"},
          "mark": {"type": "rule", "color": "#c0c0c0", "strokeWidth": 1},
          "encoding": {"x": {"datum": 0, "type": "quantitative"}, "x2": {"datum": 1851}, "y": {"datum": 10, "type": "quantitative"}}
        },
        {
          "data": {"name": "one"},
          "mark": {"type": "text", "text": "Deposit Load", "align": "left", "baseline": "middle", "dx": 2, "dy": 8, "fontSize": 9, "color": "#c8c8c8"},
          "encoding": {"x": {"datum": 0, "type": "quantitative"}, "y": {"datum": 10, "type": "quantitative"}}
        }
      ]
    }
  ]
}
